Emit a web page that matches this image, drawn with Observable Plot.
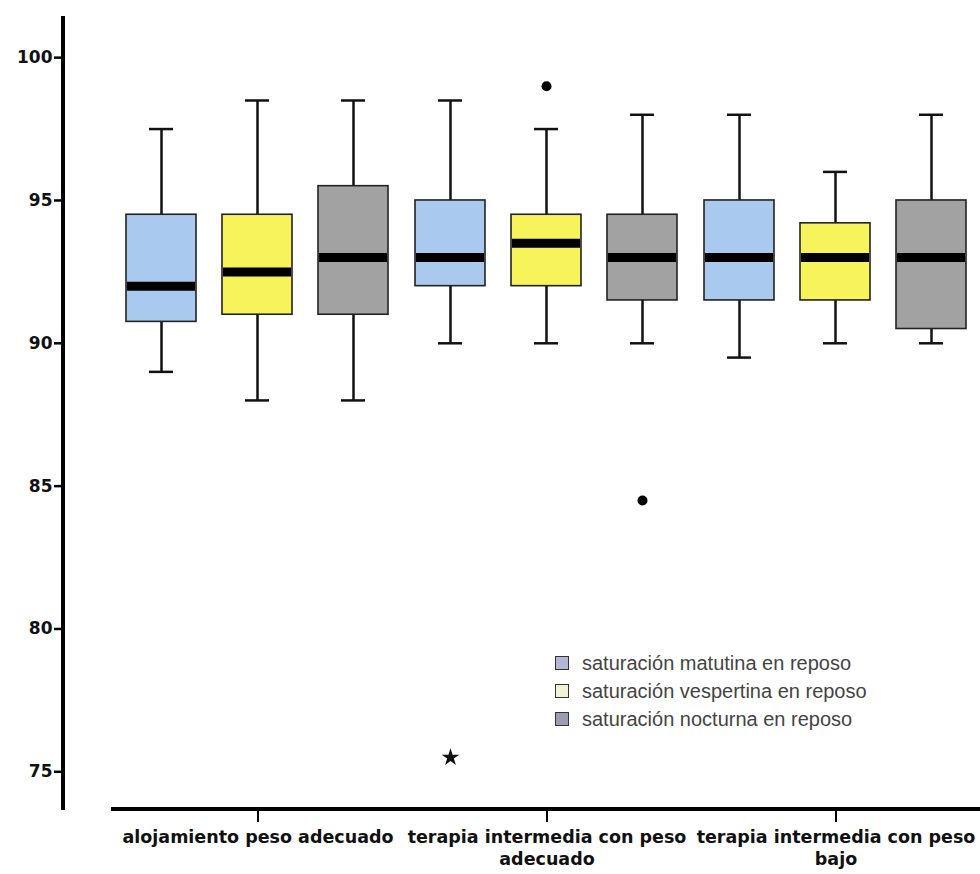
<!DOCTYPE html>
<html>
<head>
<meta charset="utf-8">
<script src="https://cdn.jsdelivr.net/npm/d3@7"></script>
<script src="https://cdn.jsdelivr.net/npm/@observablehq/plot@0.6"></script>
<style>
  html, body { margin: 0; padding: 0; background: #fff; }
  #wrap { position: relative; width: 980px; height: 874px; }
  #legend { position: absolute; left: 555px; top: 649px; font-family: "Liberation Sans", Arial, sans-serif; font-size: 20px; color: #444; }
  #legend .row { display: flex; align-items: center; height: 28px; }
  #legend .sw { width: 12px; height: 12px; border: 1.5px solid #333; margin-right: 13px; }
</style>
</head>
<body>
<div id="wrap"><div id="legend"></div></div>
<script>
const groups = ["alojamiento peso adecuado", "terapia intermedia con peso\nadecuado", "terapia intermedia con peso\nbajo"];
const series = ["saturación matutina en reposo", "saturación vespertina en reposo", "saturación nocturna en reposo"];
const colors = ["#a9c9ef", "#f7f35a", "#a2a2a2"];
const legendSwatches = ["#b4b6d6", "#f2f2d6", "#9c9cb2"];

// per series: values for each of the 3 groups
const whiskerLow  = [[89, 90, 89.5], [88, 90, 90], [88, 90, 90]];
const q1          = [[90.75, 92, 91.5], [91, 92, 91.5], [91, 91.5, 90.5]];
const medians     = [[92, 93, 93], [92.5, 93.5, 93], [93, 93, 93]];
const q3          = [[94.5, 95, 95], [94.5, 94.5, 94.2], [95.5, 94.5, 95]];
const whiskerHigh = [[97.5, 98.5, 98], [98.5, 97.5, 96], [98.5, 98, 98]];

const outlierGroup  = [1, 1, 1];
const outlierSeries = [1, 2, 0];
const outlierValue  = [99, 84.5, 75.5];
const outlierKind   = ["circle", "circle", "star"];

const yTicks = [75, 80, 85, 90, 95, 100];

const boxes = [];
series.forEach((s, si) => groups.forEach((g, gi) => boxes.push({
  group: g, series: s,
  lo: whiskerLow[si][gi], q1: q1[si][gi], med: medians[si][gi], q3: q3[si][gi], hi: whiskerHigh[si][gi]
})));
const outliers = outlierValue.map((v, i) => ({
  group: groups[outlierGroup[i]], series: series[outlierSeries[i]], value: v, kind: outlierKind[i]
}));

const W = 980, H = 874, mL = 113, mR = 0, mT = 16, mB = 65;
const font = "'DejaVu Sans', sans-serif";

const chart = Plot.plot({
  width: W, height: H,
  marginLeft: mL, marginRight: mR, marginTop: mT, marginBottom: mB,
  style: { background: "#fff", fontFamily: font },
  fx: { domain: groups, padding: 0, label: null },
  x: { domain: series, paddingInner: 0.27, paddingOuter: 0.135, axis: null },
  y: { domain: [73.68, 101.44], label: null },
  color: { domain: series, range: colors },
  marks: [
    Plot.ruleX(boxes, { fx: "group", x: "series", y1: "lo", y2: "q1", stroke: "#111", strokeWidth: 2.5 }),
    Plot.ruleX(boxes, { fx: "group", x: "series", y1: "q3", y2: "hi", stroke: "#111", strokeWidth: 2.5 }),
    Plot.tickY(boxes, { fx: "group", x: "series", y: "lo", stroke: "#111", strokeWidth: 2.5, inset: 23 }),
    Plot.tickY(boxes, { fx: "group", x: "series", y: "hi", stroke: "#111", strokeWidth: 2.5, inset: 23 }),
    Plot.barY(boxes, { fx: "group", x: "series", y1: "q1", y2: "q3", fill: "series", stroke: "#222", strokeWidth: 1.6 }),
    Plot.tickY(boxes, { fx: "group", x: "series", y: "med", stroke: "#000", strokeWidth: 9, insetLeft: 1, insetRight: 1 }),
    Plot.dot(outliers.filter(d => d.kind === "circle"), { fx: "group", x: "series", y: "value", r: 5, fill: "#000", stroke: null }),
    Plot.dot(outliers.filter(d => d.kind === "star"), { fx: "group", x: "series", y: "value", symbol: "star", r: 5.5, fill: "#111", stroke: null }),
    Plot.axisY({ anchor: "left", ticks: yTicks, dx: -50, tickSize: 9, tickPadding: 2, strokeWidth: 2.5,
      fontSize: 17, fontWeight: "bold", fontFamily: font, fill: "#111", tickFormat: d => String(d), label: null }),
    Plot.axisFx({ anchor: "bottom", tickSize: 13, tickPadding: 4, strokeWidth: 2,
      fontSize: 17.5, fontWeight: "bold", fontFamily: font, fill: "#111", lineHeight: 1.3, label: null })
  ]
});

// axis lines (SPSS style, offset)
const svg = d3.select(chart);
const y = chart.scale("y");
svg.append("line")
  .attr("x1", mL - 50).attr("x2", mL - 50)
  .attr("y1", y.range[1]).attr("y2", y.range[0] + 1)
  .attr("stroke", "#000").attr("stroke-width", 4);
svg.append("line")
  .attr("x1", mL - 2).attr("x2", W)
  .attr("y1", y.range[0]).attr("y2", y.range[0])
  .attr("stroke", "#000").attr("stroke-width", 4);

document.getElementById("wrap").prepend(chart);

const legend = d3.select("#legend");
series.forEach((s, i) => {
  const row = legend.append("div").attr("class", "row");
  row.append("div").attr("class", "sw").style("background", legendSwatches[i]);
  row.append("span").text(s);
});
</script>
</body>
</html>
